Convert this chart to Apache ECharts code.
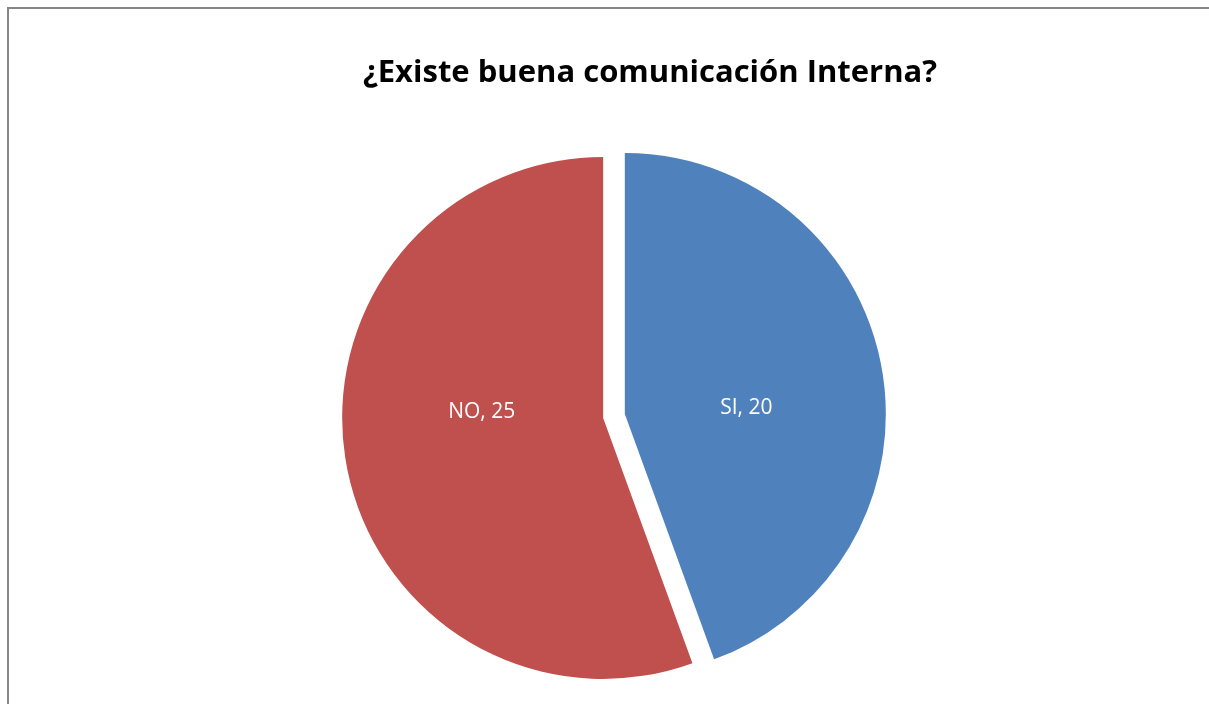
<!DOCTYPE html>
<html>
<head>
<meta charset="utf-8">
<script src="https://cdn.jsdelivr.net/npm/echarts@6/dist/echarts.min.js"></script>
<style>
html,body{margin:0;padding:0;background:#fff;}
#chart{width:1209px;height:704px;}
</style>
</head>
<body>
<div id="chart"></div>
<script>
var titleText = '¿Existe buena comunicación Interna?';
var categories = ['SI', 'NO'];
var values = [20, 25];
var colors = ['#4F81BD', '#C0504D'];
var labelShift = [[-10, 17], [10, -29]];

var chart = echarts.init(document.getElementById('chart'));
chart.setOption({
  backgroundColor: '#ffffff',
  animation: false,
  graphic: [{
    type: 'rect',
    shape: { x: 8, y: 8, width: 1400, height: 900 },
    style: { fill: 'none', stroke: '#868686', lineWidth: 2 },
    silent: true
  }],
  title: {
    text: titleText,
    left: 645,
    textAlign: 'center',
    top: 53,
    textStyle: { fontFamily: 'Open Sans', fontWeight: 'bold', fontSize: 31, color: '#000' }
  },
  series: [{
    type: 'pie',
    center: [614, 416],
    radius: [0, 261],
    startAngle: 90,
    clockwise: true,
    selectedMode: 'multiple',
    selectedOffset: 11,
    avoidLabelOverlap: false,
    emphasis: { disabled: true },
    itemStyle: { borderWidth: 0 },
    label: {
      show: true,
      position: 'inside',
      formatter: '{b}, {c}',
      color: '#fff',
      fontFamily: 'Open Sans',
      fontSize: 21
    },
    labelLine: { show: false },
    labelLayout: function (p) {
      return { dx: labelShift[p.dataIndex][0], dy: labelShift[p.dataIndex][1] };
    },
    data: categories.map(function (c, i) {
      return { name: c, value: values[i], selected: true, itemStyle: { color: colors[i] } };
    })
  }]
});
</script>
</body>
</html>
